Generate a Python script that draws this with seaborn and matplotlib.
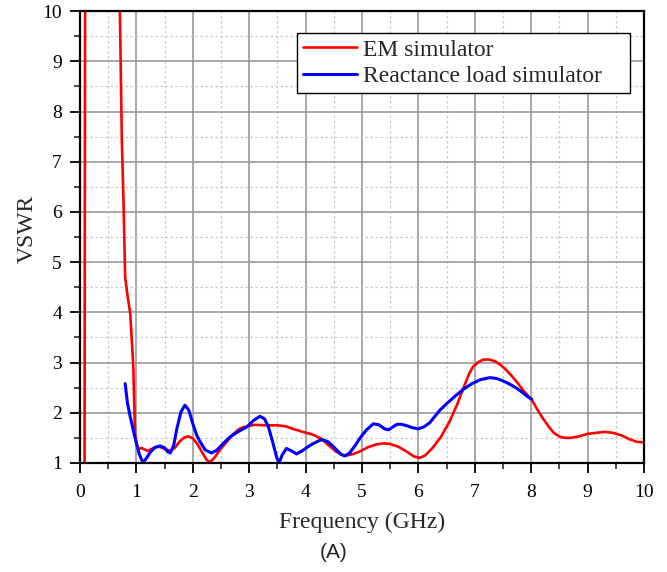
import numpy as np
import pandas as pd
import matplotlib
matplotlib.use("Agg")
import matplotlib.pyplot as plt
import seaborn as sns
from matplotlib.ticker import MultipleLocator

em_x = [0.08, 0.09, 0.4, 0.70, 0.72, 0.74, 0.77, 0.79, 0.80, 0.84, 0.89, 0.92, 0.945, 0.96,
        0.975, 1.0, 1.04, 1.09, 1.14, 1.2, 1.27, 1.35, 1.42, 1.5, 1.6, 1.68, 1.76, 1.85,
        1.92, 2.0, 2.08, 2.16, 2.24, 2.3, 2.38, 2.48, 2.6, 2.72, 2.84, 2.95, 3.1, 3.3, 3.5,
        3.65, 3.8, 3.95, 4.14, 4.28, 4.43, 4.55, 4.65, 4.73, 4.85, 4.96, 5.1, 5.25, 5.38,
        5.5, 5.65, 5.8, 5.92, 6.02, 6.12, 6.25, 6.4, 6.55, 6.7, 6.8, 6.9, 6.97, 7.05, 7.15,
        7.25, 7.35, 7.45, 7.55, 7.65, 7.74, 7.85, 7.95, 8.01, 8.1, 8.2, 8.3, 8.4, 8.51, 8.6,
        8.7, 8.85, 9.0, 9.15, 9.3, 9.45, 9.6, 9.75, 9.88, 10.0]
em_y = [1.0, 10.5, 14.0, 10.5, 9.0, 7.5, 6.23, 5.2, 4.7, 4.35, 3.98, 3.4, 2.91, 2.2,
        1.6, 1.38, 1.28, 1.3, 1.27, 1.24, 1.28, 1.32, 1.32, 1.28, 1.24, 1.3, 1.42, 1.51,
        1.53, 1.49, 1.38, 1.22, 1.07, 1.01, 1.1, 1.26, 1.42, 1.58, 1.69, 1.73, 1.76, 1.75, 1.75,
        1.73, 1.67, 1.62, 1.56, 1.48, 1.33, 1.22, 1.16, 1.15, 1.18, 1.23, 1.31, 1.37, 1.39,
        1.38, 1.32, 1.22, 1.13, 1.1, 1.15, 1.3, 1.52, 1.82, 2.2, 2.5, 2.78, 2.92, 3.0, 3.06,
        3.06, 3.03, 2.96, 2.86, 2.74, 2.62, 2.46, 2.33, 2.26, 2.08, 1.9, 1.74, 1.6, 1.52, 1.5,
        1.5, 1.53, 1.58, 1.6, 1.62, 1.6, 1.55, 1.47, 1.42, 1.41]

rl_x = [0.80, 0.84, 0.89, 0.95, 1.0, 1.05, 1.1, 1.13, 1.18, 1.25, 1.33, 1.42, 1.5, 1.56,
        1.6, 1.66, 1.72, 1.79, 1.86, 1.93, 2.0, 2.07, 2.13, 2.22, 2.33, 2.42, 2.55, 2.66,
        2.8, 2.96, 3.08, 3.19, 3.27, 3.34, 3.42, 3.49, 3.53, 3.58, 3.66, 3.75, 3.84, 3.95,
        4.05, 4.14, 4.25, 4.31, 4.4, 4.46, 4.55, 4.63, 4.7, 4.78, 4.88, 4.96, 5.08, 5.2,
        5.3, 5.4, 5.47, 5.55, 5.62, 5.7, 5.8, 5.9, 6.0, 6.1, 6.2, 6.3, 6.38, 6.5, 6.65,
        6.8, 6.95, 7.1, 7.27, 7.4, 7.55, 7.65, 7.74, 7.85, 7.95, 8.01]
rl_y = [2.58, 2.2, 1.92, 1.62, 1.39, 1.18, 1.04, 1.02, 1.1, 1.22, 1.31, 1.34, 1.3, 1.22,
        1.2, 1.35, 1.7, 2.02, 2.15, 2.05, 1.78, 1.55, 1.42, 1.26, 1.2, 1.25, 1.4, 1.52,
        1.62, 1.72, 1.85, 1.93, 1.88, 1.72, 1.4, 1.1, 1.0, 1.15, 1.29, 1.24, 1.18, 1.25,
        1.33, 1.39, 1.45, 1.46, 1.42, 1.36, 1.26, 1.17, 1.14, 1.2, 1.35, 1.49, 1.66, 1.78,
        1.76, 1.68, 1.66, 1.72, 1.77, 1.77, 1.74, 1.7, 1.68, 1.72, 1.8, 1.94, 2.05, 2.18, 2.33,
        2.47, 2.58, 2.66, 2.70, 2.68, 2.61, 2.55, 2.49, 2.4, 2.31, 2.27]

x_ticks = list(range(0, 11))
y_ticks = list(range(1, 11))

sns.set_theme(style="white")
plt.rcParams['font.family'] = ['Liberation Serif', 'DejaVu Serif']

fig = plt.figure(figsize=(6.67, 5.72), dpi=100)
ax = fig.add_axes([0.12, 0.1906, 0.8455, 0.790])

df_em = pd.DataFrame({"x": em_x, "y": em_y})
df_rl = pd.DataFrame({"x": rl_x, "y": rl_y})

ax.grid(which="major", color="#999999", lw=1.2, ls="-", zorder=0)
ax.grid(which="minor", color="#c8c8c8", lw=0.9, ls=(0, (2, 2)), zorder=0)

sns.lineplot(data=df_em, x="x", y="y", sort=False, color="#ff0000", lw=1.9,
             ax=ax, label="EM simulator", estimator=None)
sns.lineplot(data=df_rl, x="x", y="y", sort=False, color="#0000ff", lw=2.2,
             ax=ax, label="Reactance load simulator", estimator=None)

ax.set_xlim(0, 10)
ax.set_ylim(1, 10)
ax.set_xticks(x_ticks)
ax.set_yticks(y_ticks)
ax.xaxis.set_minor_locator(MultipleLocator(0.5))
ax.yaxis.set_minor_locator(MultipleLocator(0.5))
ax.set_axisbelow(True)

ax.tick_params(axis="both", which="major", direction="out", length=7, width=1.3,
               labelsize=14, colors="black", bottom=True, left=True)
ax.tick_params(axis="x", which="major", pad=8)
ax.tick_params(axis="y", which="major", pad=6)
ax.tick_params(axis="both", which="minor", direction="out", length=4, width=1.2,
               bottom=True, left=True)
for sp in ax.spines.values():
    sp.set_color("black")
    sp.set_linewidth(1.6)

ax.set_xlabel("Frequency (GHz)", fontsize=17, labelpad=8)
ax.set_ylabel("VSWR", fontsize=17)
ax.yaxis.set_label_coords(-0.075, 0.519)

leg = ax.legend(loc="upper left", bbox_to_anchor=(0.385, 0.951, 0.59, 0.0), mode="expand",
                fontsize=17, frameon=True, fancybox=False, edgecolor="black", framealpha=1,
                handlelength=2.3, handletextpad=0.25, borderpad=0.25, labelspacing=0.2,
                borderaxespad=0.0)
leg.get_frame().set_linewidth(1.0)

fig.text(0.5, 0.034, "(A)", ha="center", va="center", fontsize=15,
         family=["Liberation Sans", "DejaVu Sans"])

fig.savefig("out.png", dpi=100)
